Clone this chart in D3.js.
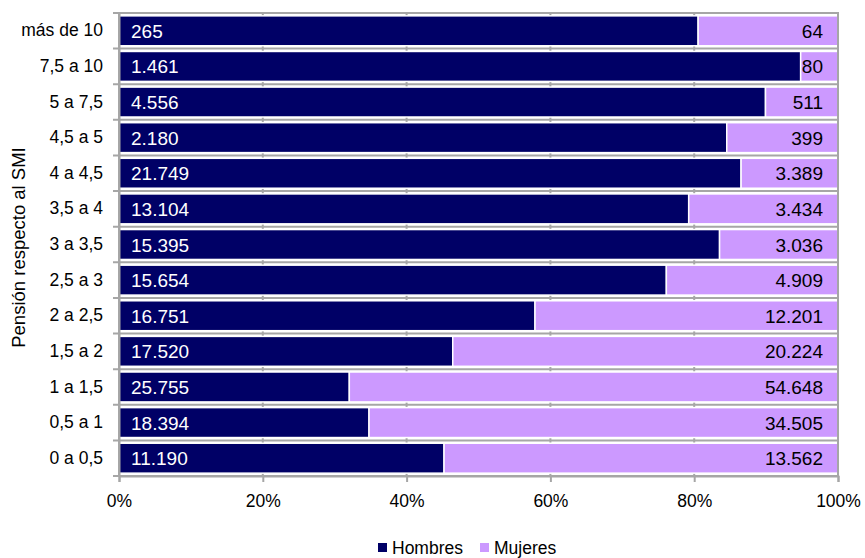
<!DOCTYPE html>
<html>
<head>
<meta charset="utf-8">
<script src="https://cdn.jsdelivr.net/npm/d3@7"></script>
<style>
  html, body { margin: 0; padding: 0; background: #fff; }
  svg { display: block; font-family: "Liberation Sans", Arial, sans-serif; }
</style>
</head>
<body>
<svg id="chart" width="865" height="558"></svg>
<script>
const categories = ["más de 10", "7,5 a 10", "5 a 7,5", "4,5 a 5", "4 a 4,5", "3,5 a 4", "3 a 3,5", "2,5 a 3", "2 a 2,5", "1,5 a 2", "1 a 1,5", "0,5 a 1", "0 a 0,5"];
const hombres = [265, 1461, 4556, 2180, 21749, 13104, 15395, 15654, 16751, 17520, 25755, 18394, 11190];
const mujeres = [64, 80, 511, 399, 3389, 3434, 3036, 4909, 12201, 20224, 54648, 34505, 13562];
const seriesNames = ["Hombres", "Mujeres"];
const seriesColors = ["#000066", "#CC99FF"];
const xTicks = [0, 0.2, 0.4, 0.6, 0.8, 1];
const yTitle = "Pensión respecto al SMI";

const svg = d3.select("#chart");
const margin = { left: 119, right: 27, top: 13, bottom: 82 };
const W = 865, H = 558;
const x = d3.scaleLinear().domain([0, 1]).range([margin.left, W - margin.right]);
const y = d3.scaleBand().domain(categories).range([margin.top, H - margin.bottom]).paddingInner(0.16).paddingOuter(0.08);
const grid = "#a6a6a6";
const fmt = v => d3.format(",")(v).replace(/,/g, ".");

// vertical gridlines
svg.append("g").selectAll("line").data(xTicks).join("line")
  .attr("x1", d => x(d)).attr("x2", d => x(d))
  .attr("y1", margin.top).attr("y2", H - margin.bottom)
  .attr("stroke", grid).attr("stroke-width", 2);

// horizontal lines at category boundaries
const step = (H - margin.bottom - margin.top) / categories.length;
const bounds = d3.range(categories.length + 1).map(i => margin.top + i * step);
svg.append("g").selectAll("line").data(bounds).join("line")
  .attr("x1", margin.left - 6).attr("x2", x(1))
  .attr("y1", d => d).attr("y2", d => d)
  .attr("stroke", grid).attr("stroke-width", 2);

// stacked data
const rows = categories.map((c, i) => {
  const t = hombres[i] + mujeres[i];
  return { c, h: hombres[i], m: mujeres[i], ph: hombres[i] / t };
});

const g = svg.append("g");
// Hombres
g.selectAll("rect.h").data(rows).join("rect").attr("class", "h")
  .attr("x", x(0)).attr("y", d => y(d.c))
  .attr("width", d => x(d.ph) - x(0)).attr("height", y.bandwidth())
  .attr("fill", seriesColors[0]).attr("stroke", "#fff").attr("stroke-width", 1.5);
// Mujeres
g.selectAll("rect.m").data(rows).join("rect").attr("class", "m")
  .attr("x", d => x(d.ph)).attr("y", d => y(d.c))
  .attr("width", d => x(1) - x(d.ph)).attr("height", y.bandwidth())
  .attr("fill", seriesColors[1]).attr("stroke", "#fff").attr("stroke-width", 1.5);

// value labels
g.selectAll("text.hv").data(rows).join("text").attr("class", "hv")
  .attr("x", x(0) + 12).attr("y", d => y(d.c) + y.bandwidth() / 2)
  .attr("dy", "0.37em").attr("fill", "#fff").attr("font-size", 19)
  .text(d => fmt(d.h));
g.selectAll("text.mv").data(rows).join("text").attr("class", "mv")
  .attr("x", x(1) - 15).attr("y", d => y(d.c) + y.bandwidth() / 2)
  .attr("dy", "0.37em").attr("text-anchor", "end").attr("fill", "#000").attr("font-size", 19)
  .text(d => fmt(d.m));

// plot border
svg.append("rect").attr("x", x(0)).attr("y", margin.top)
  .attr("width", x(1) - x(0)).attr("height", H - margin.bottom - margin.top)
  .attr("fill", "none").attr("stroke", grid).attr("stroke-width", 2);

// x axis
const xAxis = svg.append("g").attr("transform", `translate(0,${H - margin.bottom})`)
  .call(d3.axisBottom(x).tickValues(xTicks).tickFormat(d3.format(".0%")).tickSize(6).tickPadding(13));
xAxis.select(".domain").attr("stroke", grid).attr("stroke-width", 2);
xAxis.selectAll(".tick line").attr("stroke", grid).attr("stroke-width", 2);
xAxis.selectAll("text").attr("font-size", 17.5).attr("fill", "#000")
  .attr("font-family", "Liberation Sans, Arial, sans-serif");

// y axis labels
const yAxis = svg.append("g").attr("transform", `translate(${margin.left},0)`)
  .call(d3.axisLeft(y).tickSize(0).tickPadding(16));
yAxis.select(".domain").attr("stroke", grid).attr("stroke-width", 2);
yAxis.selectAll("text").attr("font-size", 17.5).attr("fill", "#000")
  .attr("font-family", "Liberation Sans, Arial, sans-serif");

// y title
svg.append("text").attr("transform", `translate(25,${(margin.top + H - margin.bottom) / 2 + 3}) rotate(-90)`)
  .attr("text-anchor", "middle").attr("font-size", 18.5).attr("fill", "#000").text(yTitle);

// legend
const legendX = [378, 480];
const lg = svg.append("g");
seriesNames.forEach((s, i) => {
  lg.append("rect").attr("x", legendX[i]).attr("y", 543).attr("width", 9).attr("height", 9).attr("fill", seriesColors[i]);
  lg.append("text").attr("x", legendX[i] + 14).attr("y", 554).attr("font-size", 17.5).attr("fill", "#000").text(s);
});
</script>
</body>
</html>
